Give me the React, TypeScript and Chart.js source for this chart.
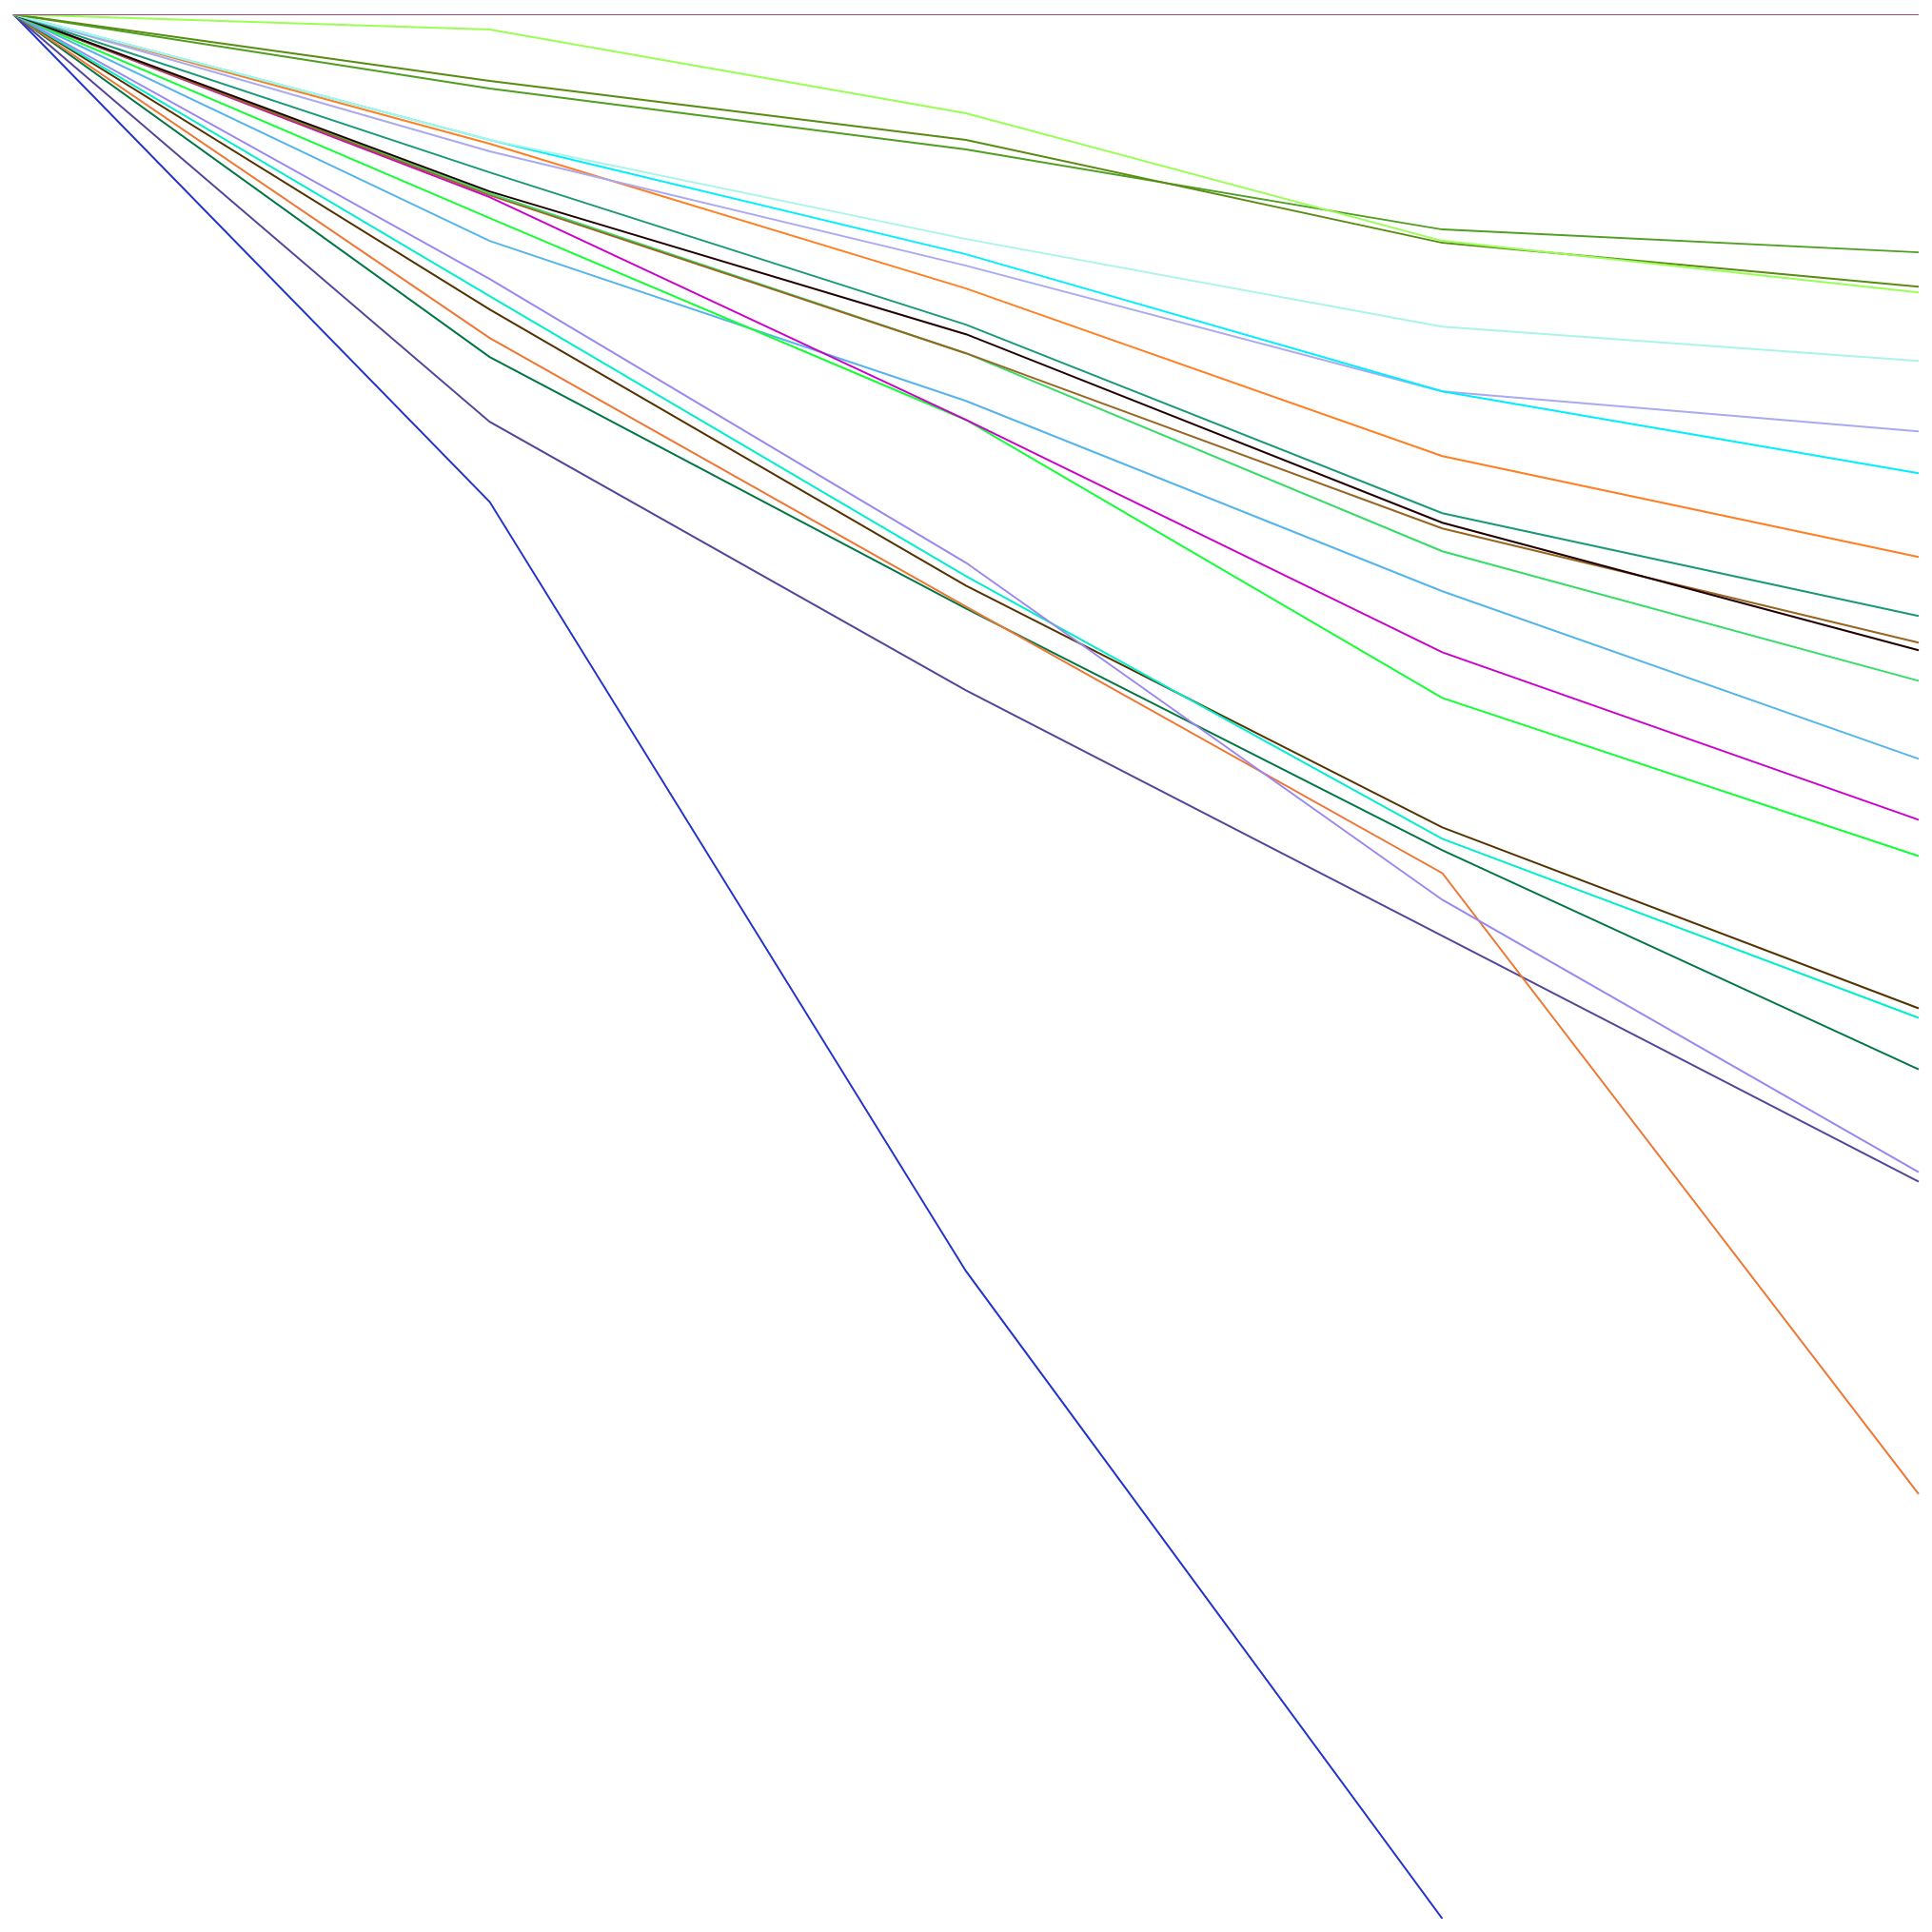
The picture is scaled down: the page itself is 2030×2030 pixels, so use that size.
import React, { useEffect, useRef } from "react";
import { Chart, registerables } from "chart.js";

Chart.register(...registerables);

const categories = ["1", "2", "3", "4", "5"];

const rose = [0, 0, 0, 0, 0];
const lightGreen = [0, -0.8, -5.2, -11.9, -14.6];
const olive = [0, -3.5, -6.6, -12.0, -14.3];
const green = [0, -3.9, -7.1, -11.3, -12.5];
const aquamarine = [0, -6.6, -11.8, -16.4, -18.2];
const cyan = [0, -6.6, -12.6, -19.8, -24.1];
const lavender = [0, -7.2, -13.2, -19.8, -21.9];
const orange = [0, -6.8, -14.4, -23.2, -28.5];
const teal = [0, -8.3, -16.3, -26.2, -31.6];
const black = [0, -9.3, -16.8, -26.7, -33.4];
const brown = [0, -9.5, -17.8, -27.0, -33.0];
const medGreen = [0, -9.4, -17.8, -28.2, -35.0];
const magenta = [0, -9.6, -21.3, -33.5, -42.3];
const brightGreen = [0, -10.7, -21.3, -35.9, -44.2];
const lightBlue = [0, -11.9, -20.3, -30.3, -39.1];
const purple = [0, -13.9, -28.8, -46.5, -60.8];
const turquoise = [0, -14.8, -29.5, -43.3, -52.7];
const darkBrown = [0, -15.5, -30.0, -42.7, -52.2];
const orangeRed = [0, -17.0, -31.1, -45.1, -77.7];
const darkGreen = [0, -18.0, -31.2, -43.9, -55.4];
const slate = [0, -21.4, -35.5, -48.4, -61.3];
const blue = [0, -25.6, -66.0, -100, null];

const seriesList: [(number | null)[], string][] = [
  [rose, "#a8467a"],
  [lightGreen, "#99ff55"],
  [olive, "#5a8c12"],
  [green, "#4fa020"],
  [aquamarine, "#aaf5e8"],
  [cyan, "#00eeff"],
  [lavender, "#aaaaf0"],
  [orange, "#ff7f22"],
  [teal, "#1a9977"],
  [black, "#220000"],
  [brown, "#996622"],
  [medGreen, "#33dd66"],
  [magenta, "#cc00cc"],
  [brightGreen, "#11ff33"],
  [lightBlue, "#55b5ea"],
  [purple, "#9988ee"],
  [turquoise, "#00eecc"],
  [darkBrown, "#553300"],
  [orangeRed, "#ee7733"],
  [darkGreen, "#007744"],
  [slate, "#554499"],
  [blue, "#2233cc"],
];

export default function App() {
  const ref = useRef<HTMLCanvasElement | null>(null);
  useEffect(() => {
    if (!ref.current) return;
    const chart = new Chart(ref.current, {
      type: "line",
      data: {
        labels: categories,
        datasets: seriesList.map(([d, c]) => ({
          data: d as any,
          borderColor: c,
          backgroundColor: c,
          borderWidth: 2,
          pointRadius: 0,
          tension: 0,
          fill: false,
          spanGaps: false,
        })),
      },
      options: {
        animation: false,
        responsive: true,
        maintainAspectRatio: false,
        layout: { padding: { left: 6, right: 6, top: 7, bottom: 6 } },
        plugins: { legend: { display: false }, tooltip: { enabled: false } },
        scales: {
          x: { display: false },
          y: { display: false, min: -100, max: 0 },
        },
      },
    });
    return () => chart.destroy();
  }, []);
  return (
    <div style={{ width: "2014px", height: "2014px", position: "relative" }}>
      <canvas ref={ref} />
    </div>
  );
}
